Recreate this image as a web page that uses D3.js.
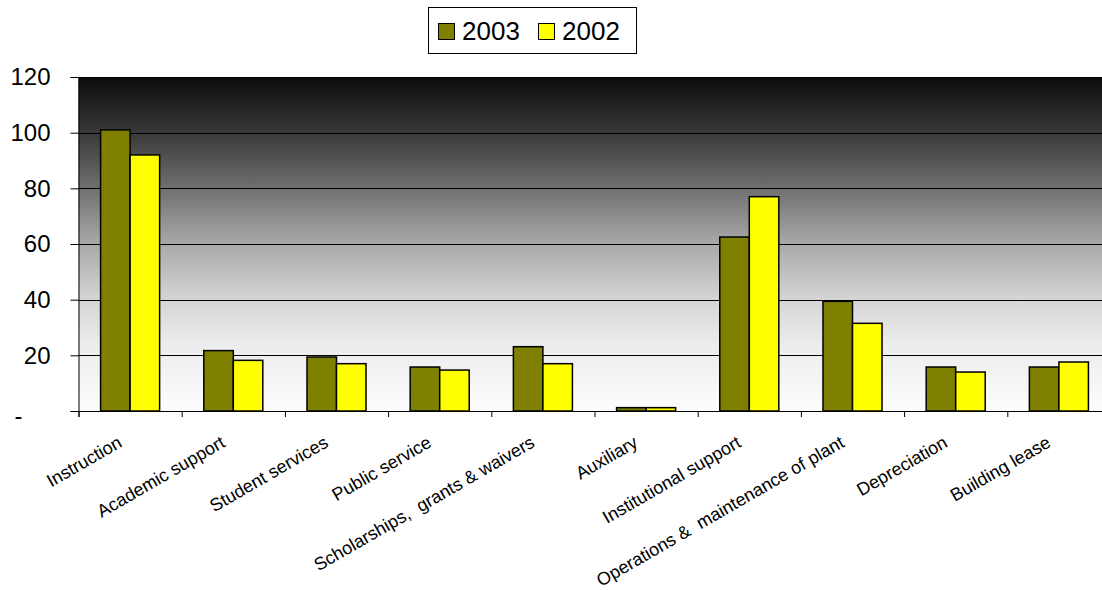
<!DOCTYPE html>
<html>
<head>
<meta charset="utf-8">
<script src="https://cdn.jsdelivr.net/npm/d3@7"></script>
<style>
  body { margin: 0; background: #fff; }
  svg { display: block; font-family: "Liberation Sans", Arial, sans-serif; }
  .y-axis text { font-size: 24px; fill: #000; }
  .x-axis text { font-size: 18px; fill: #000; white-space: pre; }
  .domain { stroke: #000; }
</style>
</head>
<body>
<script>
var W = 1102, H = 590;
var margin = {top: 77, left: 78.5, bottom: 179};

var categories = ["Instruction", "Academic support", "Student services", "Public service",
  "Scholarships,  grants & waivers", "Auxiliary", "Institutional support",
  "Operations &  maintenance of plant", "Depreciation", "Building lease"];
var seriesNames = ["2003", "2002"];
var values2003 = [101, 21.7, 19.4, 15.8, 23.1, 1.2, 62.5, 39.4, 15.8, 15.8];
var values2002 = [92, 18.2, 17, 14.7, 17, 1.2, 77, 31.5, 14, 17.6];
var yTicks = [0, 20, 40, 60, 80, 100, 120];
var colors = {"2003": "#808000", "2002": "#ffff00"};

var band = 103.2;
var plotW = band * categories.length;
var plotH = H - margin.top - margin.bottom;

var svg = d3.select("body").append("svg")
    .attr("width", W)
    .attr("height", H);

var defs = svg.append("defs");
var grad = defs.append("linearGradient")
    .attr("id", "bg").attr("x1", 0).attr("y1", 0).attr("x2", 0).attr("y2", 1);
[[0, "#0c0c0c"], [0.17, "#3a3a3a"], [0.34, "#727272"], [0.5, "#a9a9a9"],
 [0.67, "#d6d6d6"], [0.8, "#ececec"], [1, "#fdfdfd"]].forEach(function(s) {
    grad.append("stop").attr("offset", s[0]).attr("stop-color", s[1]);
});

var g = svg.append("g")
    .attr("transform", "translate(" + margin.left + "," + margin.top + ")");

var x = d3.scaleBand()
    .domain(categories)
    .range([0, plotW])
    .padding(0);

var x1 = d3.scaleBand()
    .domain(seriesNames)
    .range([x.bandwidth() * 0.214, x.bandwidth() * 0.786])
    .padding(0);

var y = d3.scaleLinear()
    .domain([0, 120])
    .range([plotH, 0]);

// background
g.append("rect")
    .attr("width", plotW)
    .attr("height", plotH)
    .attr("fill", "url(#bg)");

// gridlines
g.selectAll(".grid")
    .data(yTicks.filter(function(d) { return d > 0; }))
    .enter().append("line")
    .attr("class", "grid")
    .attr("x1", 0).attr("x2", plotW)
    .attr("y1", function(d) { return Math.round(y(d)) + 0.5; })
    .attr("y2", function(d) { return Math.round(y(d)) + 0.5; })
    .attr("stroke", "#000")
    .attr("stroke-width", 1);

// bars
var data = categories.map(function(c, i) {
    return {cat: c, vals: [{s: "2003", v: values2003[i]}, {s: "2002", v: values2002[i]}]};
});

var groups = g.selectAll(".grp")
    .data(data)
    .enter().append("g")
    .attr("class", "grp")
    .attr("transform", function(d) { return "translate(" + x(d.cat) + ",0)"; });

groups.selectAll("rect")
    .data(function(d) { return d.vals; })
    .enter().append("rect")
    .attr("x", function(d) { return x1(d.s); })
    .attr("y", function(d) { return y(d.v); })
    .attr("width", x1.bandwidth())
    .attr("height", function(d) { return plotH - y(d.v); })
    .attr("fill", function(d) { return colors[d.s]; })
    .attr("stroke", "#000")
    .attr("stroke-width", 1.5);

// y axis
var yAxis = g.append("g")
    .attr("class", "y-axis")
    .call(d3.axisLeft(y)
        .tickValues(yTicks)
        .tickSize(8)
        .tickPadding(20)
        .tickFormat(function(d) { return d === 0 ? "-" : d; }));
yAxis.selectAll(".tick line").attr("stroke", "#000");
yAxis.selectAll(".tick text")
    .filter(function(d) { return d === 0; })
    .attr("x", -56)
    .attr("dy", "0.5em");

// x axis boundary ticks
var xIdx = d3.scaleLinear().domain([0, categories.length]).range([0, plotW]);
var xTickAxis = g.append("g")
    .attr("transform", "translate(0," + plotH + ")")
    .call(d3.axisBottom(xIdx)
        .tickValues(d3.range(categories.length + 1))
        .tickSize(6)
        .tickFormat(""));
xTickAxis.selectAll(".tick line").attr("stroke", "#000");

// category labels
var xAxis = g.append("g")
    .attr("class", "x-axis")
    .attr("transform", "translate(0," + plotH + ")")
    .call(d3.axisBottom(x).tickSize(0).tickPadding(0));
xAxis.select(".domain").remove();
xAxis.selectAll(".tick text")
    .attr("xml:space", "preserve")
    .attr("text-anchor", "end")
    .attr("y", 0)
    .attr("dy", 0)
    .attr("transform", "translate(-7,35) rotate(-30)");

// legend
var legend = svg.append("g").attr("transform", "translate(428,7)");
legend.append("rect")
    .attr("x", 0.5).attr("y", 0.5)
    .attr("width", 208).attr("height", 46)
    .attr("fill", "#fff")
    .attr("stroke", "#000")
    .attr("stroke-width", 1);

var items = legend.selectAll(".item")
    .data(seriesNames)
    .enter().append("g")
    .attr("class", "item")
    .attr("transform", function(d, i) { return "translate(" + (10 + i * 100) + ",0)"; });
items.append("rect")
    .attr("x", 0.5).attr("y", 16.5)
    .attr("width", 16).attr("height", 16)
    .attr("fill", function(d) { return colors[d]; })
    .attr("stroke", "#000")
    .attr("stroke-width", 1);
items.append("text")
    .attr("x", 24)
    .attr("y", 33)
    .attr("font-size", 26)
    .text(function(d) { return d; });
</script>
</body>
</html>
